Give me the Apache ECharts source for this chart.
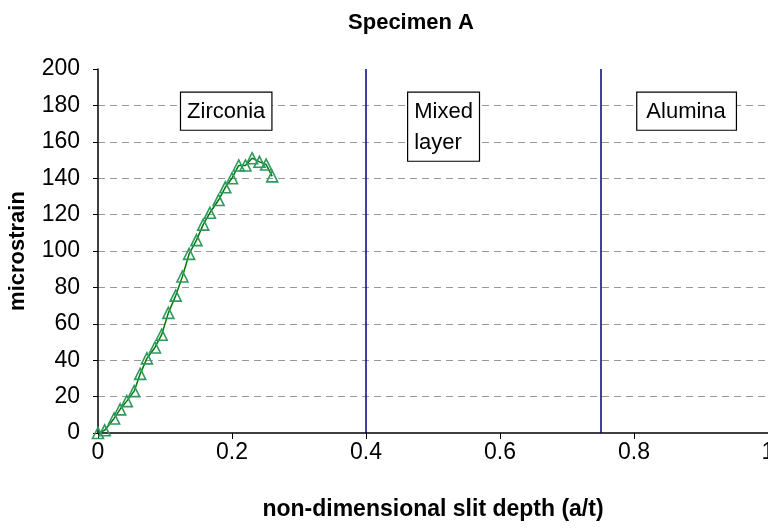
<!DOCTYPE html>
<html>
<head>
<meta charset="utf-8">
<script src="https://cdn.jsdelivr.net/npm/echarts@6/dist/echarts.min.js"></script>
<style>
  html, body { margin: 0; padding: 0; background: #fff; }
  #chart { width: 768px; height: 529px; }
</style>
</head>
<body>
<div id="chart"></div>
<script>
// Slit depth (a/t) and measured strain for Specimen A
const slitDepth = [0, 0.01, 0.024, 0.033, 0.043, 0.054, 0.063, 0.073, 0.085, 0.095,
  0.105, 0.116, 0.126, 0.136, 0.147, 0.157, 0.167, 0.18, 0.19, 0.2,
  0.21, 0.22, 0.23, 0.241, 0.251, 0.26];
const microstrain = [0, 1.5, 8, 13, 17.5, 23, 32.5, 41, 47, 54,
  66, 75.5, 86, 98.4, 106, 114.5, 121, 128, 135, 140,
  147, 147, 151, 149, 147.5, 141];

// Layer boundaries along the depth
const boundaries = [0.4, 0.75];

// Layer name boxes, anchored at their top-left corner: depth, strain, text
const layerNames = ['Zirconia', 'Mixed\nlayer', 'Alumina'];
const layerDepth = [0.124, 0.463, 0.805];
const layerStrain = [187, 187, 187];
const layerPadding = [[4, 6, 2, 6], [4, 6, 2, 6], [4, 10, 2, 9]];

const FONT = '"Liberation Sans", Arial, sans-serif';

const chart = echarts.init(document.getElementById('chart'), null, { renderer: 'canvas' });

chart.setOption({
  animation: false,
  backgroundColor: '#ffffff',
  title: {
    text: 'Specimen A',
    left: 406,
    textAlign: 'center',
    top: 7,
    textStyle: { fontFamily: FONT, fontSize: 22, fontWeight: 'bold', color: '#000' }
  },
  grid: { left: 98, top: 69, right: 0, bottom: 96, containLabel: false, outerBoundsMode: 'none' },
  xAxis: {
    type: 'value',
    min: 0, max: 1, interval: 0.2,
    name: 'non-dimensional slit depth (a/t)',
    nameLocation: 'middle',
    nameGap: 65,
    nameTextStyle: { fontFamily: FONT, fontSize: 23, fontWeight: 'bold', color: '#000' },
    axisLine: { show: true, onZero: false, lineStyle: { color: '#000', width: 1.5 } },
    axisTick: { show: true, inside: false, length: 6, lineStyle: { color: '#000', width: 1 } },
    axisLabel: { fontFamily: FONT, fontSize: 23, color: '#000', margin: 8, hideOverlap: false },
    splitLine: { show: false }
  },
  yAxis: {
    type: 'value',
    min: 0, max: 200, interval: 20,
    name: 'microstrain',
    nameLocation: 'middle',
    nameGap: 69,
    nameTextStyle: { fontFamily: FONT, fontSize: 22, fontWeight: 'bold', color: '#000' },
    axisLine: { show: true, lineStyle: { color: '#000', width: 1.5 } },
    axisTick: { show: true, inside: false, length: 5, lineStyle: { color: '#000', width: 1 } },
    axisLabel: { fontFamily: FONT, fontSize: 23, color: '#000', margin: 18 },
    splitLine: {
      show: true, showMinLine: false, showMaxLine: false,
      lineStyle: { color: '#999999', type: [7, 5], width: 1 }
    }
  },
  series: [
    {
      type: 'line',
      data: slitDepth.map((d, i) => [d, microstrain[i]]),
      symbol: 'triangle',
      symbolSize: 11,
      showAllSymbol: true,
      lineStyle: { color: '#007a00', width: 1.5 },
      itemStyle: { color: 'rgba(255,255,255,0)', borderColor: '#2e9960', borderWidth: 1.6, opacity: 1 },
      z: 5,
      markLine: {
        silent: true,
        symbol: 'none',
        label: { show: false },
        lineStyle: { color: '#000080', width: 1.5, type: 'solid' },
        data: boundaries.map(b => ({ xAxis: b }))
      }
    },
    {
      type: 'scatter',
      symbolSize: 0,
      silent: true,
      itemStyle: { opacity: 1 },
      data: layerNames.map((t, i) => ({
        value: [layerDepth[i], layerStrain[i]],
        name: t,
        label: { padding: layerPadding[i] }
      })),
      label: {
        show: true,
        position: 'inside',
        formatter: p => p.name,
        fontFamily: FONT,
        fontSize: 22,
        lineHeight: 31,
        color: '#000',
        opacity: 1,
        align: 'left',
        verticalAlign: 'top',
        backgroundColor: '#ffffff',
        borderColor: '#000',
        borderWidth: 1.2
      },
      z: 10
    }
  ]
});
</script>
</body>
</html>
